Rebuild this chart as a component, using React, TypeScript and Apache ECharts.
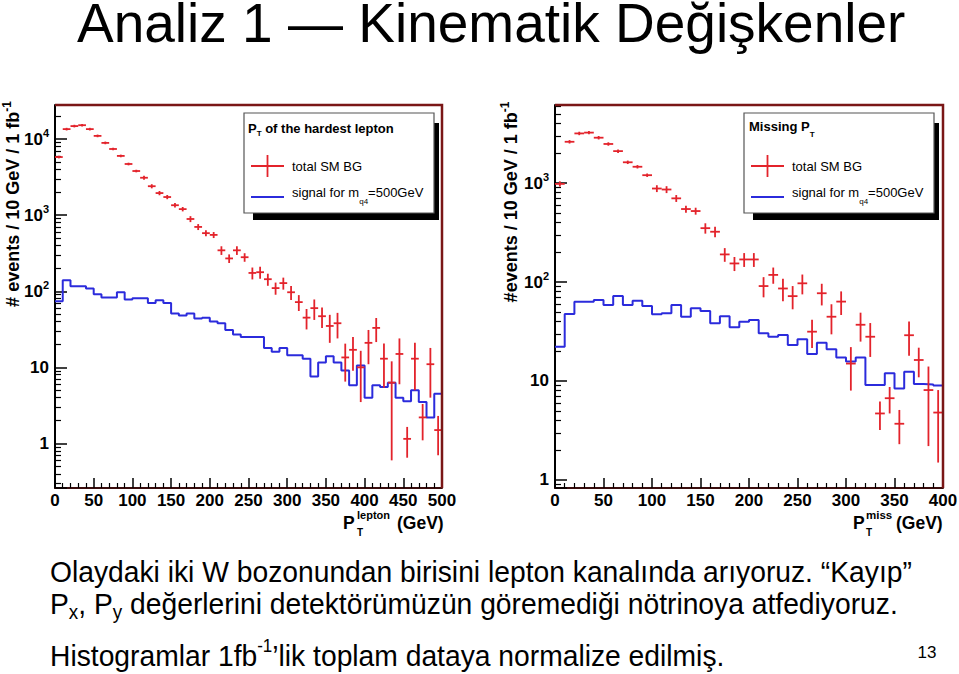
import React, { useEffect, useRef } from 'react';
import * as echarts from 'echarts';

const FONT = '"Liberation Sans", Arial, Helvetica, sans-serif';
const RED = '#e3232b';
const BLUE = '#2b2bdc';
const FRAME = '#7a1616';
const BIN_GEV = 10;

// ---- Left panel: PT of the hardest lepton (10 GeV bins, 0-500 GeV)
const leptonBG = [5800, 13500, 14800, 15200, 13500, 11000, 8900, 7400, 6000, 4700, 3800, 3100, 2400, 1950, 1730, 1350, 1200, 890, 700, 580, 550, 345, 270, 345, 280, 174, 178, 144, 110, 128, 97, 72, 45, 60, 47, 35, 38, 13.5, 17, 10, 21, 33, 13, 6.3, 15, 1.15, 13, 2.2, 11, 1.5];
const leptonBGErr = [230, 540, 590, 610, 540, 440, 360, 300, 240, 190, 150, 190, 150, 125, 110, 90, 80, 80, 63, 52, 50, 45, 35, 45, 36, 31, 32, 26, 20, 23, 20, 17, 13.5, 18, 14, 14, 14, 7, 8, 6.5, 10, 11.5, 7.6, 5.7, 9, 0.5, 8, 1.1, 7, 0.8];
const leptonSignal = [74, 140, 116, 116, 109, 91, 83, 83, 97, 78, 81, 81, 70, 76, 70, 51, 48, 51, 44, 45, 40, 38, 31, 27, 25, 25, 25, 18, 16, 18, 14.4, 14.4, 13, 7.6, 11.6, 14, 11.6, 9.1, 5.8, 10.6, 4.0, 5.8, 5.5, 6.3, 4.0, 3.6, 5.0, 3.5, 2.2, 4.5];
const leptonXMax = 500;
const leptonYRange = [0.26, 28000];

// ---- Right panel: missing PT (10 GeV bins, 0-400 GeV)
const missBG = [980, 2610, 3170, 3230, 2870, 2480, 2100, 1620, 1460, 1200, 880, 860, 700, 546, 521, 350, 322, 190, 154, 169, 169, 91, 118, 86, 72, 97, 31.5, 77, 44.6, 63.4, 15, 37, 28, 4.7, 6.7, 3.7, 29, 16.3, 8.1, 4.8];
const missBGErr = [60, 104, 127, 129, 115, 99, 84, 65, 58, 48, 70, 69, 56, 44, 42, 42, 39, 30, 25, 27, 27, 21, 22, 22, 19, 22, 10, 19, 15, 17, 7, 12, 10.5, 1.5, 2, 1.4, 11, 5.4, 5.9, 3.3];
const missSignal = [22.2, 47.5, 63.2, 63.2, 65.8, 58.6, 72.2, 58.6, 64.7, 57.3, 47.2, 48.3, 58.6, 44.6, 54.2, 50.9, 38.3, 45, 34.9, 39.7, 41.3, 30.3, 28, 29.1, 23.1, 26.4, 18.7, 24.4, 20.9, 17.3, 15.7, 17.3, 9.1, 9.1, 12, 8.4, 12.4, 9.3, 9.2, 9.0];
const missXMax = 400;
const missYRange = [0.83, 6140];

const xTickStep = 50;

// ---- Texts
const titleText = 'Analiz 1 — Kinematik Değişkenler';
const body1 = 'Olaydaki iki W bozonundan birisini lepton kanalında arıyoruz. “Kayıp”';
const body2 = [
  { t: 'P', size: 30, dy: 0 },
  { t: 'x', size: 20, dy: 8 },
  { t: ', P', size: 30, dy: 0 },
  { t: 'y', size: 20, dy: 8 },
  { t: ' değerlerini detektörümüzün göremediği nötrinoya atfediyoruz.', size: 30, dy: 0 },
];
const body3 = [
  { t: 'Histogramlar 1fb', size: 30, dy: 0 },
  { t: '-1', size: 18, dy: -10 },
  { t: '’lik toplam dataya normalize edilmiş.', size: 30, dy: 0 },
];
const pageNo = '13';

let ctx: CanvasRenderingContext2D | null = null;
function measure(text: string, size: number, weight = 'normal') {
  if (!ctx) ctx = document.createElement('canvas').getContext('2d');
  ctx!.font = `${weight} ${size}px "Liberation Sans", Arial, sans-serif`;
  return ctx!.measureText(text).width;
}

type Seg = { t: string; size: number; dy: number; w?: string; lh?: number };

function segLine(x: number, cy: number, segs: Seg[], scale: number, z = 100) {
  let off = 0;
  const children: any[] = [];
  for (const s of segs) {
    const style: any = { text: s.t, fontSize: s.size, fontFamily: FONT, fontWeight: s.w || 'normal', fill: '#000', align: 'left', verticalAlign: 'middle' };
    if (s.lh) style.lineHeight = s.lh;
    children.push({ type: 'text', x: off, y: cy + s.dy, z, style });
    off += measure(s.t, s.size, s.w || 'normal');
  }
  return { type: 'group', x, y: 0, scaleX: scale, children };
}

function logLabel(v: number) {
  const l = Math.log10(v);
  const k = Math.round(l);
  if (Math.abs(l - k) > 1e-6) return '';
  if (k === 0) return '{b|1}';
  if (k === 1) return '{b|10}';
  return `{b|10}{s|${k}}`;
}

function makeX(gi: number, max: number) {
  return {
    gridIndex: gi, type: 'value', min: 0, max, interval: xTickStep,
    axisLine: { show: true, onZero: false, lineStyle: { color: '#3a0c0c', width: 2 } },
    axisTick: { show: true, inside: true, length: 10, lineStyle: { color: '#000', width: 1.5 } },
    minorTick: { show: true, splitNumber: 5, length: 5, lineStyle: { color: '#000', width: 1.2 } },
    splitLine: { show: false }, minorSplitLine: { show: false },
    axisLabel: { fontSize: 17, fontWeight: 'bold', fontFamily: FONT, color: '#000', margin: 4, lineHeight: 16 },
  };
}

function makeY(gi: number, range: number[]) {
  return {
    gridIndex: gi, type: 'log', logBase: 10, min: range[0], max: range[1],
    axisLine: { show: true, onZero: false, lineStyle: { color: '#000', width: 2 } },
    axisTick: { show: true, inside: true, length: 12, lineStyle: { color: '#000', width: 1.5 } },
    minorTick: { show: true, splitNumber: 9, length: 6, lineStyle: { color: '#000', width: 1.2 } },
    splitLine: { show: false }, minorSplitLine: { show: false },
    axisLabel: {
      margin: 6, color: '#000', formatter: logLabel,
      rich: {
        b: { fontSize: 17, fontWeight: 'bold', fontFamily: FONT, color: '#000' },
        s: { fontSize: 11, fontWeight: 'bold', fontFamily: FONT, color: '#000', padding: [0, 0, 12, 0] },
      },
    },
  };
}

function crossRenderer(ymin: number) {
  return (params: any, api: any) => {
    const x = api.value(0);
    const v = api.value(1);
    const e = api.value(2);
    const a = api.coord([x, v]);
    const b = api.coord([x + BIN_GEV, v]);
    const c = x + BIN_GEV / 2;
    const hi = api.coord([c, v + e]);
    const lo = api.coord([c, Math.max(v - e, ymin)]);
    const st = { stroke: RED, lineWidth: 1.8 };
    return {
      type: 'group',
      children: [
        { type: 'line', shape: { x1: a[0], y1: a[1], x2: b[0], y2: b[1] }, style: st },
        { type: 'line', shape: { x1: hi[0], y1: hi[1], x2: lo[0], y2: lo[1] }, style: st },
      ],
    };
  };
}

function stepData(vals: number[], xmax: number) {
  const d = vals.map((v, i) => [i * BIN_GEV, v]);
  d.push([xmax, vals[vals.length - 1]]);
  return d;
}

function legend(bx: number, header: any) {
  const by = 113, bw = 190, bh = 100;
  const lx = bx + 7;
  const tx = bx + 48;
  return [
    { type: 'rect', z: 100, shape: { x: bx + 9, y: by + 10, width: bw - 4, height: bh - 3 }, style: { fill: '#000' } },
    { type: 'rect', z: 101, shape: { x: bx, y: by, width: bw, height: bh }, style: { fill: '#fff', stroke: '#555', lineWidth: 1.2 } },
    { ...header, z: 102 },
    { type: 'line', z: 102, shape: { x1: lx, y1: 166, x2: lx + 33, y2: 166 }, style: { stroke: RED, lineWidth: 1.8 } },
    { type: 'line', z: 102, shape: { x1: lx + 16.5, y1: 155, x2: lx + 16.5, y2: 177 }, style: { stroke: RED, lineWidth: 1.8 } },
    { type: 'line', z: 102, shape: { x1: lx, y1: 197, x2: lx + 33, y2: 197 }, style: { stroke: BLUE, lineWidth: 1.8 } },
    { type: 'text', z: 102, x: tx, y: 166, style: { text: 'total SM BG', fontSize: 13, fontFamily: FONT, fill: '#000', align: 'left', verticalAlign: 'middle' } },
    segLine(tx, 192, [
      { t: 'signal for m', size: 13, dy: 0 },
      { t: 'q4', size: 8, dy: 9 },
      { t: '=500GeV', size: 13, dy: 0 },
    ], 1, 102),
  ];
}

export default function App() {
  const ref = useRef<HTMLDivElement>(null);
  useEffect(() => {
    if (!ref.current) return;
    const chart = echarts.init(ref.current, undefined, { renderer: 'svg' });

    const bodyScale = 862 / measure(body1, 30);
    const titleScale = 828 / measure(titleText, 55);

    const yTitle = (x: number, y: number, text: string) => ({
      type: 'text', x, y, rotation: Math.PI / 2, z: 100,
      style: {
        text: `{a|${text}}{s|-1}`, align: 'center', verticalAlign: 'middle', fill: '#000',
        rich: {
          a: { fontSize: 18, fontWeight: 'bold', fontFamily: FONT, fill: '#000' },
          s: { fontSize: 12, fontWeight: 'bold', fontFamily: FONT, fill: '#000', padding: [0, 0, 12, 0] },
        },
      },
    });

    const bt = (x: number, y: number, text: string, size: number) => ({
      type: 'text', x, y, z: 100,
      style: { text, fontSize: size, lineHeight: size, fontWeight: 'bold', fontFamily: FONT, fill: '#000', align: 'left', verticalAlign: 'middle' },
    });

    const elements: any[] = [
      // title
      segLine(77, 23, [{ t: titleText, size: 55, dy: 0, lh: 44 }], titleScale),
      // body text
      segLine(50, 572, [{ t: body1, size: 30, dy: 0 }], bodyScale),
      segLine(50, 603.5, body2, bodyScale),
      segLine(50, 656, body3, bodyScale),
      { type: 'text', x: 927, y: 652, z: 100, style: { text: pageNo, fontSize: 17, fontFamily: FONT, fill: '#000', align: 'center', verticalAlign: 'middle' } },
      // frames
      { type: 'polyline', z: 50, shape: { points: [[55, 105], [442, 105], [442, 488]] }, style: { stroke: FRAME, lineWidth: 2.5, fill: 'none' } },
      { type: 'polyline', z: 50, shape: { points: [[555, 105], [943, 105], [943, 488]] }, style: { stroke: FRAME, lineWidth: 2.5, fill: 'none' } },
      // y titles
      yTitle(13, 204, '# events / 10 GeV / 1 fb'),
      yTitle(511, 202, '#events / 10 GeV / 1 fb'),
      // x titles
      bt(343, 523, 'P', 17.5),
      bt(357, 515, 'lepton', 11),
      bt(357, 532, 'T', 10),
      bt(397, 523, '(GeV)', 17.5),
      bt(853, 523, 'P', 17.5),
      bt(866, 515, 'miss', 11.5),
      bt(866, 532, 'T', 10),
      bt(896, 523, '(GeV)', 17.5),
      // legends
      ...legend(244, segLine(248, 128, [
        { t: 'P', size: 13, dy: 0, w: 'bold' },
        { t: 'T', size: 8, dy: 5, w: 'bold' },
        { t: ' of the hardest lepton', size: 13, dy: 0, w: 'bold' },
      ], 1, 102)),
      ...legend(744, segLine(749, 126, [
        { t: 'Missing P', size: 13, dy: 0, w: 'bold' },
        { t: 'T', size: 8, dy: 8, w: 'bold' },
      ], 1, 102)),
    ];

    chart.setOption({
      animation: false,
      backgroundColor: '#fff',
      grid: [
        { left: 55, top: 105, width: 387, height: 383, outerBoundsMode: 'none' },
        { left: 555, top: 105, width: 388, height: 383, outerBoundsMode: 'none' },
      ],
      xAxis: [makeX(0, leptonXMax), makeX(1, missXMax)],
      yAxis: [makeY(0, leptonYRange), makeY(1, missYRange)],
      series: [
        { type: 'line', xAxisIndex: 0, yAxisIndex: 0, step: 'end', symbol: 'none', data: stepData(leptonSignal, leptonXMax), lineStyle: { color: BLUE, width: 2 }, z: 3 },
        { type: 'custom', xAxisIndex: 0, yAxisIndex: 0, data: leptonBG.map((v, i) => [i * BIN_GEV, v, leptonBGErr[i]]), encode: { x: 0, y: 1 }, renderItem: crossRenderer(leptonYRange[0]), z: 4 },
        { type: 'line', xAxisIndex: 1, yAxisIndex: 1, step: 'end', symbol: 'none', data: stepData(missSignal, missXMax), lineStyle: { color: BLUE, width: 2 }, z: 3 },
        { type: 'custom', xAxisIndex: 1, yAxisIndex: 1, data: missBG.map((v, i) => [i * BIN_GEV, v, missBGErr[i]]), encode: { x: 0, y: 1 }, renderItem: crossRenderer(missYRange[0]), z: 4 },
      ],
      graphic: { elements },
    });
    return () => chart.dispose();
  }, []);
  return <div ref={ref} style={{ position: 'absolute', left: 0, top: 0, width: 959, height: 674 }} />;
}
